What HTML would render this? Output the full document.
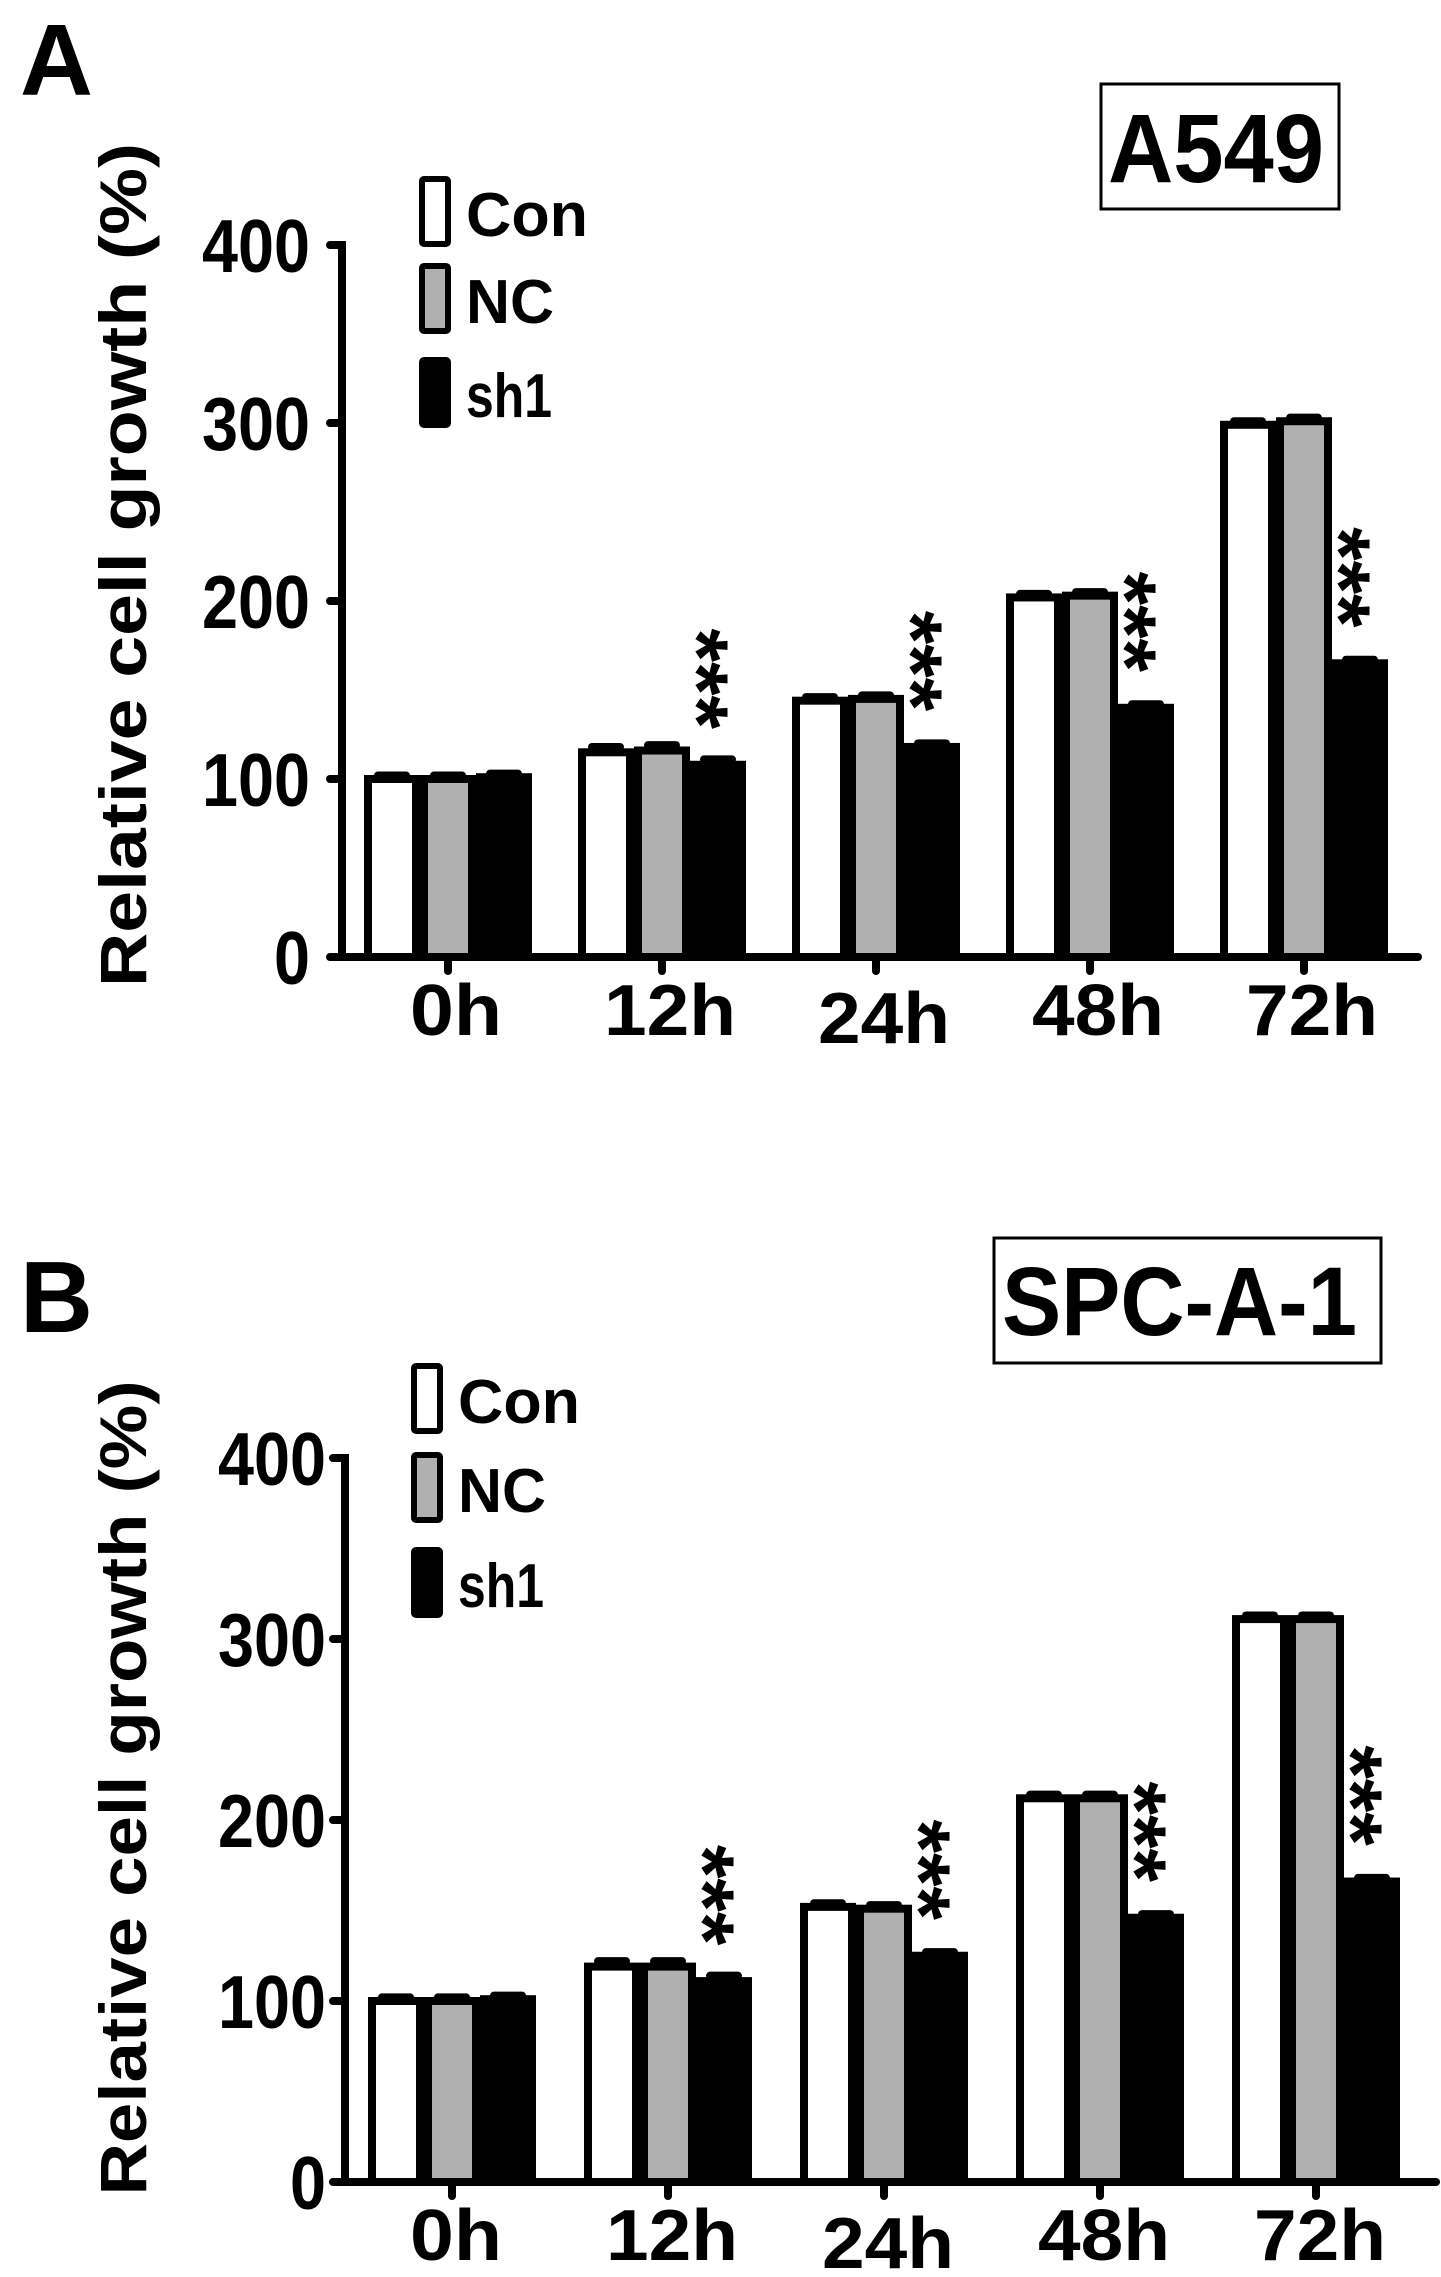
<!DOCTYPE html>
<html><head><meta charset="utf-8"><style>
html,body{margin:0;padding:0;background:#fff;}
svg{display:block;}
text{font-family:"Liberation Sans",Arial,sans-serif;font-weight:bold;fill:#000;}
</style></head><body>
<svg id="fig" width="1441" height="2277" viewBox="0 0 1441 2277" xmlns="http://www.w3.org/2000/svg">
<text x="20" y="95" font-size="101">A</text>
<rect x="1101" y="84" width="238" height="125" fill="#fff" stroke="#000" stroke-width="3"/>
<text x="1108" y="182" font-size="97" textLength="216" lengthAdjust="spacingAndGlyphs">A549</text>
<text x="20" y="1332" font-size="101">B</text>
<rect x="994" y="1238" width="387" height="125" fill="#fff" stroke="#000" stroke-width="3"/>
<text x="1002" y="1335" font-size="97" textLength="355" lengthAdjust="spacingAndGlyphs">SPC-A-1</text>
<g id="panelA"></g>
<g id="panelB"></g>
</svg>
<script>
const categories = ["0h","12h","24h","48h","72h"];
const seriesNames = ["Con","NC","sh1"];
const yTicks = [0,100,200,300,400];
const aCon = [100,115,144,202,299];
const aNC  = [100,116,145,203,301];
const aSh1 = [101,108,118,140,165];
const aErr = [2,3,2,2,2];
const bCon = [100,119,152,212,311];
const bNC  = [100,119,151,212,311];
const bSh1 = [101,111,125,146,166];
const bErr = [2,3,2,2,2];
const aSig = [false,true,true,true,true];
const bSig = [false,true,true,true,true];

const NS = "http://www.w3.org/2000/svg";
function mk(parent, tag, attrs, txt){
  const e = document.createElementNS(NS, tag);
  for (const k in attrs) e.setAttribute(k, attrs[k]);
  if (txt !== undefined) e.textContent = txt;
  parent.appendChild(e);
  return e;
}
const fills = ["#ffffff","#b0b0b0","#000000"];

function drawPanel(g, P, series, err, sig){
  const yS = v => P.base - v * P.unit;
  const xS = i => P.c0 + i * P.step;
  let e = mk(g,"line",{x1:P.ax,y1:yS(400)-4,x2:P.ax,y2:P.base+4,stroke:"#000","stroke-width":8});
  
  
  e = mk(g,"line",{x1:P.ax-10,y1:P.base,x2:P.xEnd,y2:P.base,stroke:"#000","stroke-width":8,"stroke-linecap":"round"});
  
  
  yTicks.forEach(t=>{
    const y = yS(t);
    let tk = mk(g,"line",{x1:P.ax-12,y1:y,x2:P.ax,y2:y,stroke:"#000","stroke-width":8,"stroke-linecap":"round"});
    
    
    const s = String(t);
    let lb = mk(g,"text",{x:P.labR,y:y+27,"font-size":75,"text-anchor":"end",textLength:36*s.length,lengthAdjust:"spacingAndGlyphs"},s);
    
    
  });
  let yl = mk(g,"text",{x:0,y:0,"font-size":66,"text-anchor":"middle",textLength:P.ylLen,lengthAdjust:"spacingAndGlyphs",transform:`translate(${P.ylX},${P.ylY}) rotate(-90)`},"Relative cell growth (%)");
  
  
  categories.forEach((c,i)=>{
    const cx = xS(i);
    let tk = mk(g,"line",{x1:cx,y1:P.base,x2:cx,y2:P.base+14,stroke:"#000","stroke-width":8,"stroke-linecap":"round"});
    
    
    const w = c.length===2 ? 92 : 132;
    let lb = mk(g,"text",{x:cx+P.lblOff,y:P.lblY + (c==="24h"?8:0),"font-size":72,"text-anchor":"middle",textLength:w,lengthAdjust:"spacingAndGlyphs"},c);
    
    
    series.forEach((arr,s)=>{
      const x0 = cx - 84 + s*56;
      const top = yS(arr[i]);
      const ey = yS(arr[i]+err[i]);
      let cap = mk(g,"line",{x1:x0+14,y1:ey,x2:x0+42,y2:ey,stroke:"#000","stroke-width":8,"stroke-linecap":"round"});
      
      
      let r = mk(g,"rect",{x:x0+4,y:top,width:48,height:P.base-top,fill:fills[s],stroke:"#000","stroke-width":8});
      
      
    });
    if (sig[i]){
      const sx = cx + 56;
      const top = yS(series[2][i]);
      const midY = top - 36 - 50;
      let st = mk(g,"text",{x:0,y:0,"font-size":86,"text-anchor":"middle",transform:`translate(${sx-50},${midY}) rotate(90)`},"***");
      
      
    }
  });
  P.legY.forEach((ly,s)=>{
    let sw = mk(g,"rect",{x:P.legX+3,y:ly+3,width:26,height:65,fill:fills[s],stroke:"#000","stroke-width":6,rx:2});
    
    
    const len = [122,88,86][s];
    let lt = mk(g,"text",{x:P.legX+47,y:ly+60,"font-size":62,textLength:len,lengthAdjust:"spacingAndGlyphs"},seriesNames[s]);
    
    
  });
}

drawPanel(document.getElementById('panelA'),
  {base:957,unit:1.78,ax:342,c0:448,step:214,xEnd:1418,labR:310,ylX:146,ylY:565,ylLen:844,lblOff:8,lblY:1035,legX:419,legY:[176,263,357]},
  [aCon,aNC,aSh1], aErr, aSig);
drawPanel(document.getElementById('panelB'),
  {base:2182,unit:1.81,ax:345,c0:452,step:216,xEnd:1436,labR:326,ylX:146,ylY:1788,ylLen:815,lblOff:4,lblY:2260,legX:411,legY:[1363,1452,1547]},
  [bCon,bNC,bSh1], bErr, bSig);
</script>
</body></html>
